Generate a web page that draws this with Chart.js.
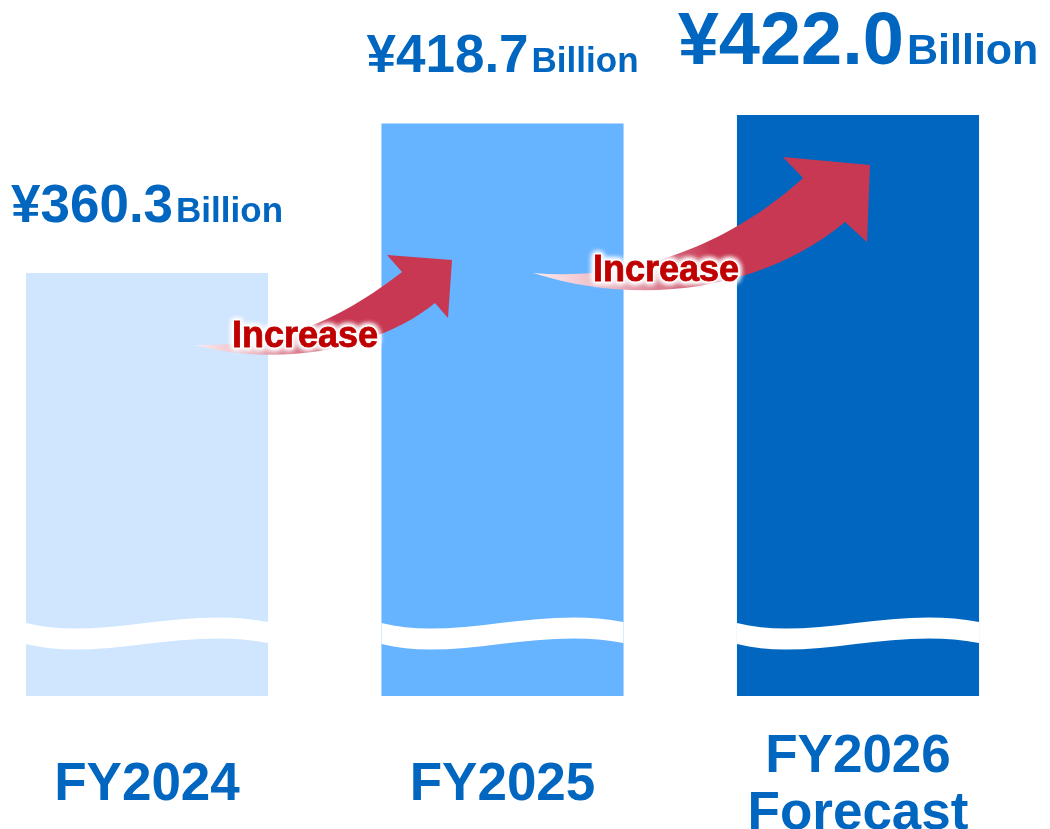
<!DOCTYPE html>
<html><head><meta charset="utf-8">
<script src="https://cdn.jsdelivr.net/npm/chart.js@4/dist/chart.umd.min.js"></script>
<style>html,body{margin:0;padding:0;background:#fff;}#wrap{width:1050px;height:829px;position:relative;}</style>
</head><body><div id="wrap"><canvas id="c"></canvas></div>
<script>
// ---- data ----
const categories = ['FY2024', 'FY2025', ['FY2026', 'Forecast']];
const revenue = [360.3, 418.7, 422.0];
const axisBase = 195;
const currencySymbol = '¥';
const unitLabel = 'Billion';
const arrowText = 'Increase';

// ---- styles ----
const FONT = '"Liberation Sans", Arial, Helvetica, sans-serif';
const BLUE_TEXT = '#0066BF';
const barColors = ['#CFE6FE', '#66B3FF', '#0066C0'];
const valueFontSizes = [53, 53, 74];
const unitFontSizes = [35, 35, 43];

const arrows = [
  { tail:[195,345], up:[[290,347],[350,312],[402,272]], head:[[387,255],[452,260],[448,318],[435,303]], low:[[385,344],[290,370]], text:[305,347] },
  { tail:[533,273], up:[[640,282],[735,240],[803,178]], head:[[783,157],[870,165],[867,242],[845,222]], low:[[770,285],[650,310]], text:[666,281] }
];

const wavePlugin = {
  id: 'wave',
  afterDatasetsDraw(chart) {
    const ctx = chart.ctx;
    chart.getDatasetMeta(0).data.forEach(el => {
      const w = el.width, L = el.x - w/2, R = el.x + w/2, B = el.base;
      ctx.save();
      ctx.fillStyle = '#fff';
      ctx.beginPath();
      ctx.moveTo(L, B-73);
      ctx.bezierCurveTo(L+0.3*w, B-54, L+0.65*w, B-91, R, B-74);
      ctx.lineTo(R, B-53);
      ctx.bezierCurveTo(L+0.65*w, B-70, L+0.3*w, B-33, L, B-52);
      ctx.closePath();
      ctx.fill();
      ctx.restore();
    });
  }
};

const arrowPlugin = {
  id: 'arrows',
  afterDatasetsDraw(chart) {
    const ctx = chart.ctx;
    arrows.forEach(a => {
      ctx.save();
      const tip = a.head[1];
      const g = ctx.createLinearGradient(a.tail[0], a.tail[1], tip[0], tip[1]);
      g.addColorStop(0, '#FCECEF');
      g.addColorStop(0.2, '#EBB3BF');
      g.addColorStop(0.5, '#C83852');
      g.addColorStop(1, '#C83852');
      ctx.fillStyle = g;
      ctx.beginPath();
      ctx.moveTo(a.tail[0], a.tail[1]);
      ctx.bezierCurveTo(a.up[0][0], a.up[0][1], a.up[1][0], a.up[1][1], a.up[2][0], a.up[2][1]);
      a.head.forEach(p => ctx.lineTo(p[0], p[1]));
      ctx.bezierCurveTo(a.low[0][0], a.low[0][1], a.low[1][0], a.low[1][1], a.tail[0], a.tail[1]);
      ctx.closePath();
      ctx.fill();
      ctx.font = 'bold 36px ' + FONT;
      ctx.textAlign = 'center';
      ctx.textBaseline = 'alphabetic';
      ctx.shadowColor = '#fff';
      ctx.shadowBlur = 6;
      ctx.fillStyle = '#fff';
      ctx.lineWidth = 3;
      ctx.strokeStyle = '#fff';
      for (let i = 0; i < 3; i++) { ctx.strokeText(arrowText, a.text[0], a.text[1]); ctx.fillText(arrowText, a.text[0], a.text[1]); }
      ctx.shadowBlur = 0;
      ctx.fillStyle = '#C00000';
      ctx.lineWidth = 0.8;
      ctx.strokeStyle = '#C00000';
      ctx.fillText(arrowText, a.text[0], a.text[1]);
      ctx.strokeText(arrowText, a.text[0], a.text[1]);
      ctx.restore();
    });
  }
};

const valueLabelPlugin = {
  id: 'valueLabels',
  afterDatasetsDraw(chart) {
    const ctx = chart.ctx;
    chart.getDatasetMeta(0).data.forEach((el, i) => {
      const big = currencySymbol + revenue[i].toFixed(1);
      ctx.save();
      ctx.fillStyle = BLUE_TEXT;
      ctx.textBaseline = 'alphabetic';
      ctx.textAlign = 'left';
      const bigFont = 'bold ' + valueFontSizes[i] + 'px ' + FONT;
      const smallFont = 'bold ' + unitFontSizes[i] + 'px ' + FONT;
      ctx.font = bigFont; const w1 = ctx.measureText(big).width;
      ctx.font = smallFont; const w2 = ctx.measureText(unitLabel).width;
      const gap = 3;
      const x0 = el.x - (w1 + gap + w2) / 2;
      const y = el.y - 51;
      ctx.font = bigFont; ctx.fillText(big, x0, y);
      ctx.font = smallFont; ctx.fillText(unitLabel, x0 + w1 + gap, y);
      ctx.restore();
    });
  }
};

new Chart(document.getElementById('c'), {
  type: 'bar',
  data: {
    labels: categories,
    datasets: [{
      data: revenue,
      base: axisBase,
      backgroundColor: barColors,
      borderWidth: 0,
      barPercentage: 1,
      categoryPercentage: 0.681,
      clip: false
    }]
  },
  options: {
    responsive: true,
    maintainAspectRatio: false,
    animation: false,
    devicePixelRatio: 1,
    layout: { padding: { left: 147, right: 192, top: 10, bottom: 0 } },
    plugins: { legend: { display: false }, tooltip: { enabled: false } },
    scales: {
      x: {
        type: 'category',
        offset: false,
        grid: { display: false, drawTicks: false },
        border: { display: false },
        ticks: {
          color: BLUE_TEXT,
          font: { family: FONT, size: 53, weight: 'bold', lineHeight: 1.08 },
          padding: 61,
          crossAlign: 'center',
          maxRotation: 0,
          autoSkip: false
        },
        afterFit: s => { s.height = 133; s.paddingLeft = 0; s.paddingRight = 0; }
      },
      y: { display: false, min: axisBase, max: 463 }
    }
  },
  plugins: [wavePlugin, arrowPlugin, valueLabelPlugin]
});
</script>
</body></html>
